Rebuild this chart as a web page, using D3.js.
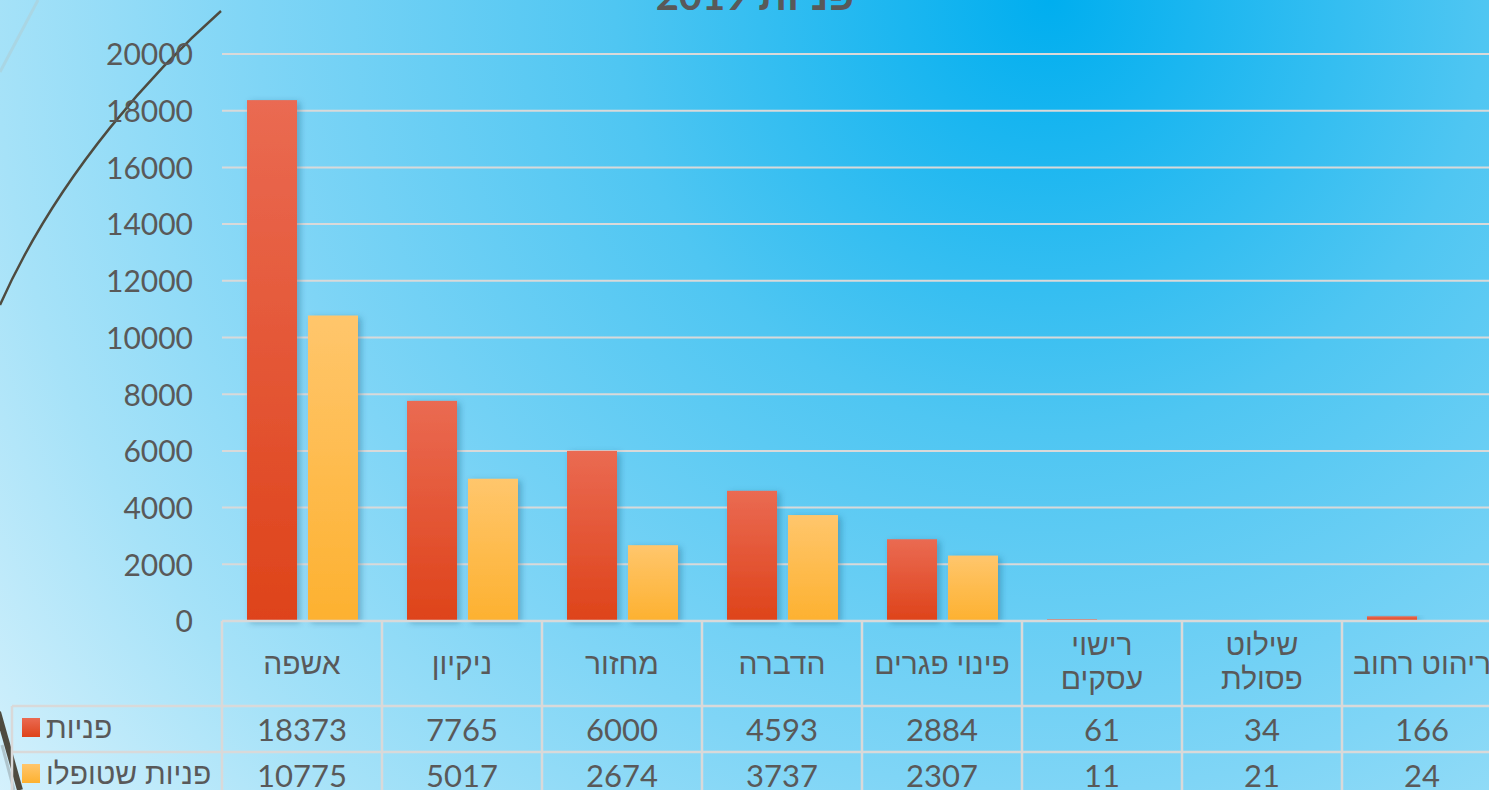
<!DOCTYPE html>
<html><head><meta charset="utf-8">
<script src="https://cdn.jsdelivr.net/npm/d3@7/dist/d3.min.js"></script>
<style>
html,body{margin:0;padding:0;overflow:hidden;background:#fff;}
svg{display:block;}
</style></head>
<body>
<svg id="chart" width="1489" height="790"></svg>
<script>
// ---- data ----
const title = "פניות 2019";
const categories = ["אשפה","ניקיון","מחזור","הדברה","פינוי פגרים","רישוי עסקים","שילוט פסולת","ריהוט רחוב"];
const categoryLines = [["אשפה"],["ניקיון"],["מחזור"],["הדברה"],["פינוי פגרים"],["רישוי","עסקים"],["שילוט","פסולת"],["ריהוט רחוב"]];
const seriesNames = ["פניות","פניות שטופלו"];
const requests = [18373,7765,6000,4593,2884,61,34,166];
const handled  = [10775,5017,2674,3737,2307,11,21,24];
const yTicks = [0,2000,4000,6000,8000,10000,12000,14000,16000,18000,20000];

const W = 1489, H = 790;
const svg = d3.select("#chart");
const defs = svg.append("defs");

// background radial gradient
const bg = defs.append("radialGradient").attr("id","bg").attr("gradientUnits","userSpaceOnUse")
  .attr("cx",1050).attr("cy",0).attr("r",1320);
[[0,"#00aeef"],[0.33,"#4fc6f2"],[0.6,"#7fd5f6"],[0.8,"#a6e2f8"],[1,"#d5f1fc"]]
  .forEach(([o,c])=>bg.append("stop").attr("offset",o).attr("stop-color",c));
svg.append("rect").attr("width",W).attr("height",H).attr("fill","url(#bg)");

// bar gradients
function vgrad(id, top, bottom){
  const g = defs.append("linearGradient").attr("id",id).attr("x1",0).attr("y1",0).attr("x2",0).attr("y2",1);
  g.append("stop").attr("offset",0).attr("stop-color",top);
  g.append("stop").attr("offset",1).attr("stop-color",bottom);
}
vgrad("gRed","#ea6a52","#de431a");
vgrad("gYel","#ffc66c","#fdb130");
const fills = ["url(#gRed)","url(#gYel)"];

const shadow = defs.append("filter").attr("id","shadow").attr("x","-30%").attr("y","-10%").attr("width","160%").attr("height","130%");
shadow.append("feDropShadow").attr("dx",3).attr("dy",2).attr("stdDeviation",3)
  .attr("flood-color","#1a4a6a").attr("flood-opacity",0.35);

// decorative lines
svg.append("path").attr("d","M38,0 L0,72").attr("stroke","#a9d6e4").attr("stroke-width",3).attr("fill","none");
svg.append("path").attr("d","M221,11 C160,65 60,170 0,305").attr("stroke","#4e4b40").attr("stroke-width",2.4).attr("fill","none");
svg.append("path").attr("d","M-2,712 L20,790").attr("stroke","#4e4b40").attr("stroke-width",6).attr("fill","none");
svg.append("path").attr("d","M2,745 L14,790").attr("stroke","#9aa8ad").attr("stroke-width",3).attr("fill","none").attr("opacity",0.6);

// scales
const plotLeft = 222, bandW = 160;
const x0 = d3.scaleBand().domain(categories).range([plotLeft, plotLeft + bandW*categories.length]).padding(0);
const x1 = d3.scaleBand().domain(seriesNames).range([25,136]).paddingInner(0.18).paddingOuter(0);
const y = d3.scaleLinear().domain([0,20000]).range([621,54]);

const font = "Lato, 'Liberation Sans', 'DejaVu Sans', sans-serif";
const txt = "#595959";
const gridC = "#d9d9d9";

// gridlines
svg.append("g").selectAll("line").data(yTicks.filter(d=>d>0)).join("line")
  .attr("x1",plotLeft).attr("x2",W).attr("y1",d=>y(d)).attr("y2",d=>y(d))
  .attr("stroke",gridC).attr("stroke-width",2);

// y axis labels
const yAxis = d3.axisLeft(y).tickValues(yTicks).tickSize(0).tickPadding(0).tickFormat(d3.format("d"));
const ya = svg.append("g").attr("transform","translate(193,0)").call(yAxis);
ya.select(".domain").remove();
ya.selectAll("text").attr("font-family",font).attr("font-size",30).attr("fill",txt).attr("dy","0.36em");

// bars
const seriesData = [requests, handled];
const gBars = svg.append("g");
categories.forEach((c,i)=>{
  seriesNames.forEach((s,k)=>{
    const v = seriesData[k][i];
    gBars.append("rect")
      .attr("x", x0(c) + x1(s)).attr("width", x1.bandwidth())
      .attr("y", y(v)).attr("height", Math.max(0, y(0) - y(v)))
      .attr("fill", fills[k]).attr("filter","url(#shadow)");
  });
});

// data table
const rowBottom = 800;
const tbl = svg.append("g");
tbl.append("line").attr("x1",plotLeft).attr("x2",W).attr("y1",621).attr("y2",621).attr("stroke",gridC).attr("stroke-width",2.5);
[706,752].forEach(yy=>tbl.append("line").attr("x1",12).attr("x2",W).attr("y1",yy).attr("y2",yy).attr("stroke",gridC).attr("stroke-width",2.5));
tbl.append("line").attr("x1",12).attr("x2",12).attr("y1",706).attr("y2",rowBottom).attr("stroke",gridC).attr("stroke-width",2.5);
categories.forEach(c=>{
  tbl.append("line").attr("x1",x0(c)).attr("x2",x0(c)).attr("y1",621).attr("y2",rowBottom).attr("stroke",gridC).attr("stroke-width",2.5);
});

// category labels and values
categories.forEach((c,i)=>{
  const lines = categoryLines[i];
  const cx = x0(c) + x0.bandwidth()/2;
  const t = tbl.append("text").attr("x",cx).attr("text-anchor","middle")
    .attr("font-family",font).attr("font-size",30).attr("fill",txt).attr("direction","rtl");
  if(lines.length===1){
    t.attr("y",674).text(lines[0]);
  } else {
    lines.forEach((l,j)=> t.append("tspan").attr("x",cx).attr("y",655 + j*34).text(l));
  }
  seriesData.forEach((arr,k)=>{
    tbl.append("text").attr("x",cx).attr("y",[741,787][k]).attr("text-anchor","middle")
      .attr("font-family",font).attr("font-size",31).attr("fill",txt).text(arr[i]);
  });
});

// legend keys in table
seriesNames.forEach((s,k)=>{
  const yy = [718,764][k];
  tbl.append("rect").attr("x",22).attr("y",yy).attr("width",18).attr("height",19).attr("fill",fills[k]);
  tbl.append("text").attr("x",46).attr("y",yy+20).attr("text-anchor","start")
    .attr("font-family",font).attr("font-size",30).attr("fill",txt).text(s);
});

// title
svg.append("text").attr("x",755).attr("y",10).attr("text-anchor","middle")
  .attr("font-family",font).attr("font-weight","bold").attr("font-size",40).attr("fill",txt).text(title);
</script>
</body></html>
